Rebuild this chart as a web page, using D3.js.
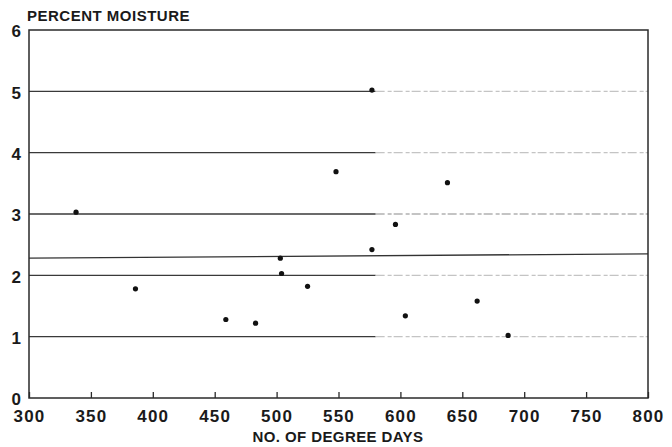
<!DOCTYPE html>
<html>
<head>
<meta charset="utf-8">
<script src="https://cdn.jsdelivr.net/npm/d3@7/dist/d3.min.js"></script>
<style>
  html, body { margin: 0; padding: 0; background: #fff; }
  svg text { font-family: "Liberation Sans", Arial, sans-serif; font-weight: bold; fill: #1a1a1a; }
</style>
</head>
<body>
<div id="chart"></div>
<script>
'use strict';

// ─── Data ───────────────────────────────────────────────────────────────────
const degreeDays = [338, 386, 459, 483, 503, 504, 525, 548, 577, 577, 596, 604, 638, 662, 687];
const moisture   = [3.03, 1.78, 1.28, 1.22, 2.28, 2.03, 1.82, 3.69, 5.02, 2.42, 2.83, 1.34, 3.51, 1.58, 1.02];

const xTicks     = [300, 350, 400, 450, 500, 550, 600, 650, 700, 750, 800];
const yTicks     = [0, 1, 2, 3, 4, 5, 6];
const gridValues = [1, 2, 3, 4, 5];
const fadeFrom   = 580;            // print of the grid lines fades out past here

const fitX = [300, 800];           // fitted line end points
const fitY = [2.28, 2.35];

// ─── Layout ─────────────────────────────────────────────────────────────────
const W = 672, H = 447;
const M = { top: 30, right: 24, bottom: 49, left: 29 };

const svg = d3.select('#chart').append('svg')
    .attr('width', W)
    .attr('height', H);

const x = d3.scaleLinear().domain([300, 800]).range([M.left, W - M.right]);
const y = d3.scaleLinear().domain([0, 6]).range([H - M.bottom, M.top]);

// grid lines: solid on the left, faded dashes on the right
const grid = svg.append('g');
grid.selectAll('.grid-solid')
    .data(gridValues)
    .enter().append('line')
    .attr('x1', x(300)).attr('x2', x(fadeFrom))
    .attr('y1', d => y(d)).attr('y2', d => y(d))
    .attr('stroke', '#3a3a3a')
    .attr('stroke-width', 1.3);
grid.selectAll('.grid-fade')
    .data(gridValues)
    .enter().append('line')
    .attr('x1', x(fadeFrom)).attr('x2', x(800))
    .attr('y1', d => y(d)).attr('y2', d => y(d))
    .attr('stroke', d => d === 3 ? '#8a8a8a' : '#c4c4c4')
    .attr('stroke-width', 1.2)
    .attr('stroke-dasharray', '9 3 4 2');

// fitted line
svg.append('line')
    .attr('x1', x(fitX[0])).attr('x2', x(fitX[1]))
    .attr('y1', y(fitY[0])).attr('y2', y(fitY[1]))
    .attr('stroke', '#333')
    .attr('stroke-width', 1.4);

// frame
svg.append('rect')
    .attr('x', x(300)).attr('y', y(6))
    .attr('width', x(800) - x(300))
    .attr('height', y(0) - y(6))
    .attr('fill', 'none')
    .attr('stroke', '#2a2a2a')
    .attr('stroke-width', 1.5);

// x axis: inward ticks, labels below
const xAxis = d3.axisBottom(x)
    .tickValues(xTicks)
    .tickSizeInner(-6)
    .tickSizeOuter(0)
    .tickPadding(12)
    .tickFormat(d3.format('d'));

const gx = svg.append('g')
    .attr('transform', 'translate(0,' + y(0) + ')')
    .call(xAxis);
gx.select('.domain').remove();
gx.selectAll('.tick line').attr('stroke', '#2a2a2a').attr('stroke-width', 1.3);
gx.selectAll('.tick text')
    .attr('font-size', 17)
    .attr('letter-spacing', 1.2)
    .attr('fill', '#1a1a1a')
    .attr('font-family', null)
    .attr('dy', '0.71em');

// y axis: labels only
const yAxis = d3.axisLeft(y)
    .tickValues(yTicks)
    .tickSize(0)
    .tickPadding(8)
    .tickFormat(d3.format('d'));

const gy = svg.append('g')
    .attr('transform', 'translate(' + x(300) + ',0)')
    .call(yAxis);
gy.select('.domain').remove();
gy.selectAll('.tick text')
    .attr('font-size', 17)
    .attr('fill', '#1a1a1a')
    .attr('font-family', null)
    .attr('dy', '0.4em');

// points
svg.append('g').selectAll('circle')
    .data(degreeDays.map((d, i) => [d, moisture[i]]))
    .enter().append('circle')
    .attr('cx', d => x(d[0]))
    .attr('cy', d => y(d[1]))
    .attr('r', 2.6)
    .attr('fill', '#111');

// titles
svg.append('text')
    .attr('x', 27).attr('y', 21)
    .attr('font-size', 15)
    .attr('letter-spacing', 0.5)
    .text('PERCENT MOISTURE');

svg.append('text')
    .attr('x', 338).attr('y', 442)
    .attr('text-anchor', 'middle')
    .attr('font-size', 15)
    .attr('letter-spacing', 0.4)
    .text('NO. OF DEGREE DAYS');
</script>
</body>
</html>
